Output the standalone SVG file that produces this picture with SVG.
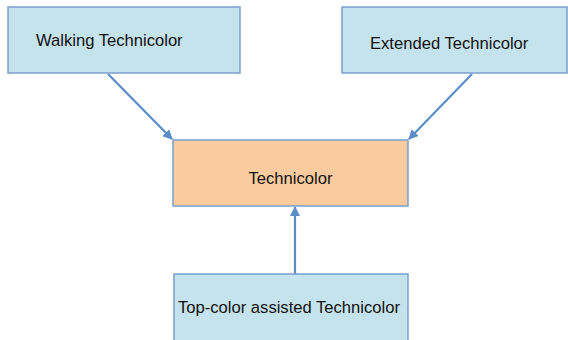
<svg xmlns="http://www.w3.org/2000/svg" width="568" height="340" viewBox="0 0 568 340">
<style>
.blue{fill:#c5e3ec;stroke:#7a9fcb;stroke-width:1.5}
.orange{fill:#f9cb9e;stroke:#7a9fcb;stroke-width:1.5}
.t{font-family:"Liberation Sans",Arial,sans-serif;font-size:16.6px;fill:#111}
.c{fill:none;stroke:#5b8dc8;stroke-width:2.2}
</style>
<defs>
<marker id="ah" viewBox="0 0 10 10" refX="9" refY="5" markerWidth="4.5" markerHeight="4.5" orient="auto" markerUnits="strokeWidth">
<path d="M0,0 L10,5 L0,10 Z" fill="#5b8dc8"/>
</marker>
</defs>
<rect width="568" height="340" fill="#fff"/>
<g id="connectors">
<line class="c" x1="108" y1="74" x2="172" y2="139" marker-end="url(#ah)"/>
<line class="c" x1="472" y1="74" x2="409" y2="139" marker-end="url(#ah)"/>
<line class="c" x1="295" y1="274" x2="295" y2="207" marker-end="url(#ah)"/>
</g>
<g id="walking">
<rect class="blue" x="8" y="7" width="232" height="66"/>
<text class="t" x="36" y="46">Walking Technicolor</text>
</g>
<g id="extended">
<rect class="blue" x="342" y="7" width="225" height="66"/>
<text class="t" x="370" y="49">Extended Technicolor</text>
</g>
<g id="technicolor">
<rect class="orange" x="173" y="140" width="235" height="66"/>
<text class="t" x="290.5" y="184" text-anchor="middle">Technicolor</text>
</g>
<g id="topcolor">
<rect class="blue" x="174" y="274" width="234" height="70"/>
<text class="t" x="178" y="313">Top-color assisted Technicolor</text>
</g>
</svg>
